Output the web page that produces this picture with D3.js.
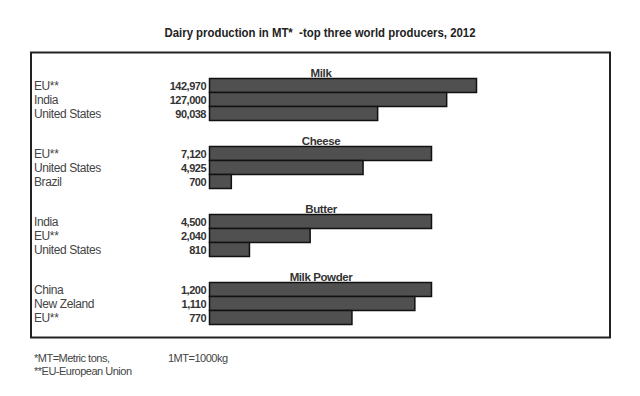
<html>
<head>
<title>dairy</title>
<style>
  body { margin: 0; background: #fff; }
  text { font-family: "Liberation Sans", Arial, sans-serif; }
</style>
</head>
<body>
<script src="https://d3js.org/d3.v7.min.js"></script>
<script>
// data
var groups = ["Milk", "Cheese", "Butter", "Milk Powder"];
var producers = [
    ["EU**", "India", "United States"],
    ["EU**", "United States", "Brazil"],
    ["India", "EU**", "United States"],
    ["China", "New Zeland", "EU**"]
];
var values = [
    [142970, 127000, 90038],
    [7120, 4925, 700],
    [4500, 2040, 810],
    [1200, 1110, 770]
];
var footnotes = ["*MT=Metric tons,", "**EU-European Union"];
var unitNote = "1MT=1000kg";

var width = 640, height = 396;
var svg = d3.select("body").append("svg")
    .attr("width", width)
    .attr("height", height);

// title
svg.append("text")
    .attr("x", 320).attr("y", 37)
    .attr("text-anchor", "middle")
    .attr("font-size", 12.5).attr("font-weight", "bold")
    .attr("fill", "#222")
    .attr("textLength", 311)
    .attr("lengthAdjust", "spacingAndGlyphs")
    .style("white-space", "pre")
    .text("Dairy production in MT*  -top three world producers, 2012");

// frame
svg.append("rect")
    .attr("x", 31).attr("y", 52.5)
    .attr("width", 579).attr("height", 285)
    .attr("fill", "none")
    .attr("stroke", "#222")
    .attr("stroke-width", 2);

var barLeft = 209.5;
var groupY = d3.scaleLinear().domain([0, 1]).range([78.5, 146.5]);
var rowY = d3.scaleBand().domain([0, 1, 2]).range([0, 42]);

groups.forEach(function(name, gi) {
    var g = svg.append("g").attr("transform", "translate(0," + groupY(gi) + ")");
    var full = gi === 0 ? 267 : 222;
    var x = d3.scaleLinear()
        .domain([0, d3.max(values[gi])])
        .range([0, full]);

    g.append("text")
        .attr("x", 321).attr("y", -2)
        .attr("text-anchor", "middle")
        .attr("font-size", 11.5).attr("font-weight", "bold")
        .attr("letter-spacing", -0.4)
        .attr("fill", "#333")
        .text(name);

    g.selectAll("rect")
        .data(values[gi])
        .enter()
        .append("rect")
        .attr("x", barLeft)
        .attr("y", function(d, i) { return rowY(i); })
        .attr("width", function(d) { return x(d); })
        .attr("height", rowY.bandwidth())
        .attr("fill", "#505050")
        .attr("stroke", "#111")
        .attr("stroke-width", 1.5);

    g.selectAll(".country")
        .data(producers[gi])
        .enter()
        .append("text")
        .attr("class", "country")
        .attr("x", 34)
        .attr("y", function(d, i) { return rowY(i) + 11; })
        .attr("font-size", 12)
        .attr("letter-spacing", -0.4)
        .attr("fill", "#444")
        .text(function(d) { return d; });

    g.selectAll(".val")
        .data(values[gi])
        .enter()
        .append("text")
        .attr("class", "val")
        .attr("x", 206)
        .attr("y", function(d, i) { return rowY(i) + 11; })
        .attr("text-anchor", "end")
        .attr("font-size", 11).attr("font-weight", "bold")
        .attr("letter-spacing", -0.5)
        .attr("fill", "#333")
        .text(function(d) { return d3.format(",")(d); });
});

// footnotes
svg.selectAll(".foot")
    .data(footnotes)
    .enter()
    .append("text")
    .attr("class", "foot")
    .attr("x", 34)
    .attr("y", function(d, i) { return 362 + i * 13; })
    .attr("font-size", 11)
    .attr("letter-spacing", -0.5)
    .attr("fill", "#444")
    .text(function(d) { return d; });

svg.append("text")
    .attr("x", 168).attr("y", 362)
    .attr("font-size", 11)
    .attr("letter-spacing", -0.5)
    .attr("fill", "#444")
    .text(unitNote);
</script>
</body>
</html>
